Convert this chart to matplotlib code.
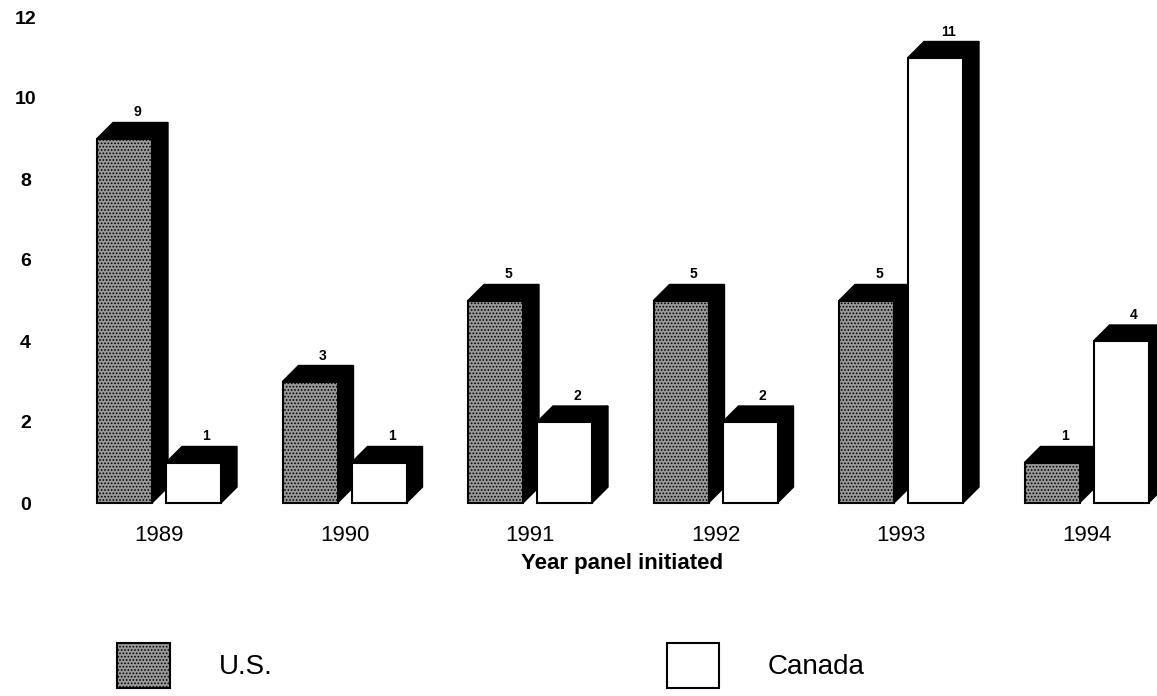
import matplotlib.pyplot as plt
import numpy as np
from matplotlib.patches import Polygon, Rectangle

plt.rcParams['font.family'] = ['Liberation Sans', 'DejaVu Sans']
plt.rcParams['hatch.linewidth'] = 0.8
plt.rcParams['hatch.color'] = '#111111'

years = ['1989', '1990', '1991', '1992', '1993', '1994']
us_counts = [9, 3, 5, 5, 5, 1]
canada_counts = [1, 1, 2, 2, 11, 4]
series_names = ['U.S.', 'Canada']
yticks = [0, 2, 4, 6, 8, 10, 12]

W, H = 1157, 696
fig = plt.figure(figsize=(W / 100, H / 100), dpi=100)

# axes box in pixels, bars drawn in data units inside it
left_px, bottom_px = 45, 510
ax = fig.add_axes([left_px / W, (H - bottom_px) / H, (W - left_px) / W, bottom_px / H])
px_x = 185.5   # pixels per group
px_y = 40.5    # pixels per count
x0_px, y0_px = 159, 503
ax.set_xlim((left_px - x0_px) / px_x, (W - x0_px) / px_x)
ax.set_ylim((y0_px - bottom_px) / px_y, y0_px / px_y)

bar_w = 55 / px_x
off = 7 / px_x
dx = 16 / px_x
dy = 16 / px_y


def bar3d(x, v, face, hatch, label=None):
    """前面 + 顶面 + 侧面(黑色)"""
    ax.add_patch(Polygon([(x, v), (x + dx, v + dy), (x + bar_w + dx, v + dy), (x + bar_w, v)],
                         closed=True, facecolor='black', edgecolor='black', lw=1, clip_on=False))
    ax.add_patch(Polygon([(x + bar_w, 0), (x + bar_w + dx, dy), (x + bar_w + dx, v + dy), (x + bar_w, v)],
                         closed=True, facecolor='black', edgecolor='black', lw=1, clip_on=False))
    r = Rectangle((x, 0), bar_w, v, facecolor=face, edgecolor='black', hatch=hatch,
                  lw=1.5, clip_on=False, label=label)
    ax.add_patch(r)
    ax.text(x + bar_w / 2 + dx * 0.8, v + dy + 3 / px_y, str(v), ha='center', va='bottom',
            fontsize=10, fontweight='bold')
    return r


handles = []
for i in range(len(years)):
    h1 = bar3d(i - off - bar_w, us_counts[i], '#9a9a9a', '.....', series_names[0] if i == 0 else None)
    h2 = bar3d(i + off, canada_counts[i], 'white', None, series_names[1] if i == 0 else None)
    if i == 0:
        handles = [h1, h2]

ax.set_yticks(yticks)
ax.set_yticklabels([str(t) for t in yticks], fontsize=14, fontweight='bold', ha='center')
ax.set_xticks(np.arange(len(years)))
ax.set_xticklabels(years, fontsize=16)
ax.tick_params(axis='y', length=0, pad=14)
ax.tick_params(axis='x', length=0, pad=11)
for s in ax.spines.values():
    s.set_visible(False)

fig.text(622 / W, 1 - 564 / H, 'Year panel initiated', ha='center', va='center',
         fontsize=16, fontweight='bold')

fig.legend(handles=handles, labels=series_names, loc='upper left',
           bbox_to_anchor=(117 / W, 1 - 643 / H), ncol=2, frameon=False,
           fontsize=20, handlelength=1.9, handleheight=2.1, handletextpad=1.75,
           columnspacing=14.2, borderpad=0, borderaxespad=0)

fig.savefig('out.png', dpi=100)
